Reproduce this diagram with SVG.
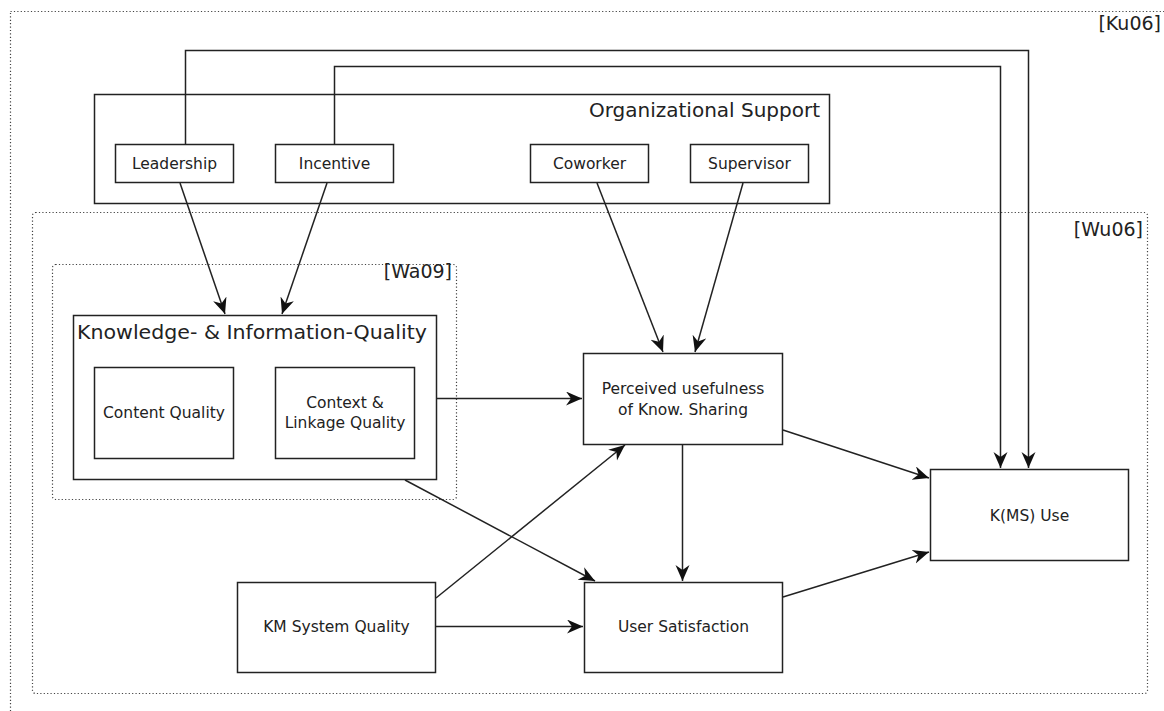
<svg xmlns="http://www.w3.org/2000/svg" width="1164" height="711" viewBox="0 0 1164 711">
  <style>
    .box { fill: #fff; stroke: #222; stroke-width: 1.5; }
    .frame { fill: none; stroke: #444; stroke-width: 1.2; stroke-dasharray: 1.2 2.2; }
    .edge { fill: none; stroke: #222; stroke-width: 1.5; marker-end: url(#arrow); }
    text { font-family: "DejaVu Sans", "Liberation Sans", sans-serif; fill: #222; }
    .lbl { font-size: 15.5px; text-anchor: middle; }
    .title { font-size: 20px; }
    .ref { font-size: 19px; text-anchor: end; }
  </style>
  <defs>
    <marker id="arrow" markerUnits="userSpaceOnUse" markerWidth="18" markerHeight="16" refX="16" refY="7" orient="auto">
      <path d="M0,0 L16,7 L0,14 L5,7 Z" fill="#111"/>
    </marker>
  </defs>

  <!-- study frames -->
  <g id="frame-ku06">
    <rect class="frame" x="10.5" y="11.5" width="1170" height="720"/>
    <text class="ref" x="1161" y="30">[Ku06]</text>
  </g>
  <g id="frame-wu06">
    <rect class="frame" x="32.5" y="212.5" width="1115" height="481" rx="3"/>
    <text class="ref" x="1143" y="236">[Wu06]</text>
  </g>
  <g id="frame-wa09">
    <rect class="frame" x="52.5" y="264.5" width="404" height="235" rx="3"/>
    <text class="ref" x="452" y="278">[Wa09]</text>
  </g>

  <!-- organizational support group -->
  <g id="org-support">
    <rect class="box" x="94.5" y="94.5" width="735" height="109"/>
    <text class="title" x="589" y="117" textLength="231" lengthAdjust="spacingAndGlyphs">Organizational Support</text>
  </g>
  <g id="leadership">
    <rect class="box" x="115.5" y="144.5" width="118" height="38"/>
    <text class="lbl" x="174.5" y="169">Leadership</text>
  </g>
  <g id="incentive">
    <rect class="box" x="275.5" y="144.5" width="118" height="38"/>
    <text class="lbl" x="334.5" y="169">Incentive</text>
  </g>
  <g id="coworker">
    <rect class="box" x="530.5" y="144.5" width="118" height="38"/>
    <text class="lbl" x="589.5" y="169">Coworker</text>
  </g>
  <g id="supervisor">
    <rect class="box" x="690.5" y="144.5" width="118" height="38"/>
    <text class="lbl" x="749.5" y="169">Supervisor</text>
  </g>

  <!-- knowledge & information quality group -->
  <g id="kiq">
    <rect class="box" x="73.5" y="315.5" width="363" height="164"/>
    <text class="title" x="77" y="339" textLength="350" lengthAdjust="spacingAndGlyphs">Knowledge- &amp; Information-Quality</text>
  </g>
  <g id="content-quality">
    <rect class="box" x="94.5" y="367.5" width="139" height="91"/>
    <text class="lbl" x="164" y="418">Content Quality</text>
  </g>
  <g id="context-quality">
    <rect class="box" x="275.5" y="367.5" width="139" height="91"/>
    <text class="lbl" x="345" y="408">Context &amp;</text>
    <text class="lbl" x="345" y="428">Linkage Quality</text>
  </g>

  <g id="perceived-usefulness">
    <rect class="box" x="583.5" y="353.5" width="199" height="91"/>
    <text class="lbl" x="683" y="394">Perceived usefulness</text>
    <text class="lbl" x="683" y="415">of Know. Sharing</text>
  </g>
  <g id="km-system-quality">
    <rect class="box" x="237.5" y="582.5" width="198" height="90"/>
    <text class="lbl" x="336.5" y="632">KM System Quality</text>
  </g>
  <g id="user-satisfaction">
    <rect class="box" x="584.5" y="582.5" width="198" height="90"/>
    <text class="lbl" x="683.5" y="632">User Satisfaction</text>
  </g>
  <g id="kms-use">
    <rect class="box" x="930.5" y="469.5" width="198" height="91"/>
    <text class="lbl" x="1029.5" y="521">K(MS) Use</text>
  </g>

  <!-- connectors -->
  <g id="connectors">
    <path class="edge" d="M185.5,144 V50.5 H1028.5 V468"/>
    <path class="edge" d="M334.5,144 V66.5 H1000.5 V468"/>
    <path class="edge" d="M180,183 L225,314"/>
    <path class="edge" d="M327,183 L282,314"/>
    <path class="edge" d="M597,183 L663,352"/>
    <path class="edge" d="M743,183 L695,352"/>
    <path class="edge" d="M437,398.5 H582"/>
    <path class="edge" d="M405,480 L595,581"/>
    <path class="edge" d="M436,598 L625,445"/>
    <path class="edge" d="M436,626.5 H583"/>
    <path class="edge" d="M682.5,445 V581"/>
    <path class="edge" d="M783,430 L929,478"/>
    <path class="edge" d="M783,597 L929,552"/>
  </g>
</svg>
